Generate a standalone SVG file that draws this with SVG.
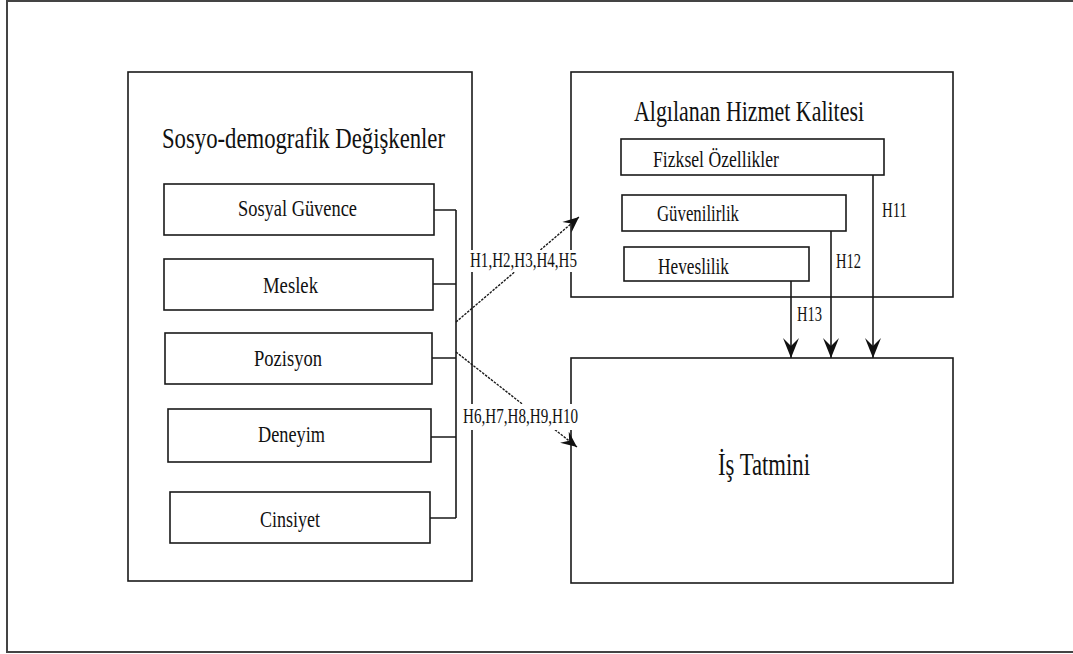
<svg xmlns="http://www.w3.org/2000/svg" width="1073" height="654" viewBox="0 0 1073 654">
<style>
.box{fill:#fff;stroke:#1a1a1a;stroke-width:1.6}
.plain{fill:none;stroke:#1a1a1a;stroke-width:1.6}
.t{font-family:"Liberation Serif","Times New Roman","DejaVu Serif",serif;fill:#111}
.dash{fill:none;stroke:#1a1a1a;stroke-width:1.4;stroke-dasharray:2.5,1.2}
.lblbg{fill:#fff;stroke:none}
</style>
<defs>
<marker id="ah" markerUnits="userSpaceOnUse" viewBox="-20 -10 21 20" refX="0" refY="0" markerWidth="21" markerHeight="20" orient="auto">
<path d="M0,0 L-20,-8 L-12,0 L-20,8 Z" fill="#111"/>
</marker>
<marker id="ahs" markerUnits="userSpaceOnUse" viewBox="-16 -8 17 16" refX="0" refY="0" markerWidth="17" markerHeight="16" orient="auto">
<path d="M0,0 L-16,-7 L-10,0 L-16,7 Z" fill="#111"/>
</marker>
</defs>
<rect x="0" y="0" width="1073" height="654" fill="#fff"/>
<path d="M1073,1 H7 V652 H1073" fill="none" stroke="#444" stroke-width="2"/>

<g id="sosyo">
<rect class="box" x="128" y="72" width="344" height="509"/>
<text class="t" x="162" y="148" font-size="30" textLength="283" lengthAdjust="spacingAndGlyphs">Sosyo-demografik Değişkenler</text>
</g>
<g id="sosyal-guvence">
<rect class="box" x="164" y="184" width="270" height="51"/>
<text class="t" x="238" y="216" font-size="24" textLength="119" lengthAdjust="spacingAndGlyphs">Sosyal Güvence</text>
</g>
<g id="meslek">
<rect class="box" x="164" y="259" width="269" height="51"/>
<text class="t" x="263" y="293" font-size="24" textLength="55" lengthAdjust="spacingAndGlyphs">Meslek</text>
</g>
<g id="pozisyon">
<rect class="box" x="165" y="333" width="267" height="51"/>
<text class="t" x="254" y="366" font-size="24" textLength="68" lengthAdjust="spacingAndGlyphs">Pozisyon</text>
</g>
<g id="deneyim">
<rect class="box" x="168" y="409" width="263" height="53"/>
<text class="t" x="258" y="442" font-size="24" textLength="67" lengthAdjust="spacingAndGlyphs">Deneyim</text>
</g>
<g id="cinsiyet">
<rect class="box" x="170" y="492" width="260" height="51"/>
<text class="t" x="260" y="527" font-size="24" textLength="60" lengthAdjust="spacingAndGlyphs">Cinsiyet</text>
</g>

<g id="hizmet-kalitesi">
<rect class="box" x="571" y="72" width="382" height="225"/>
<text class="t" x="634" y="121" font-size="29" textLength="230" lengthAdjust="spacingAndGlyphs">Algılanan Hizmet Kalitesi</text>
</g>
<g id="fiziksel">
<rect class="box" x="621" y="139" width="263" height="36"/>
<text class="t" x="653" y="167" font-size="23" textLength="126" lengthAdjust="spacingAndGlyphs">Fizksel Özellikler</text>
</g>
<g id="guvenilirlik">
<rect class="box" x="622" y="195" width="224" height="36"/>
<text class="t" x="657" y="221" font-size="23" textLength="82" lengthAdjust="spacingAndGlyphs">Güvenilirlik</text>
</g>
<g id="heveslilik">
<rect class="box" x="624" y="247" width="185" height="34"/>
<text class="t" x="658" y="274" font-size="23" textLength="71" lengthAdjust="spacingAndGlyphs">Heveslilik</text>
</g>

<g id="is-tatmini">
<rect class="box" x="571" y="358" width="382" height="225"/>
<text class="t" x="718" y="475" font-size="32" textLength="92" lengthAdjust="spacingAndGlyphs">İş Tatmini</text>
</g>

<g id="connectors">
<path class="plain" d="M434,210 H456 M433,284 H456 M432,358 H456 M431,437 H456 M430,518 H456 M456,210 V518"/>
<line class="dash" x1="456" y1="322" x2="579" y2="217" marker-end="url(#ahs)"/>
<line class="dash" x1="456" y1="352" x2="577" y2="447" marker-end="url(#ahs)"/>
<rect class="lblbg" x="468" y="250" width="111" height="22"/>
<text class="t" x="470" y="267" font-size="22" textLength="107" lengthAdjust="spacingAndGlyphs">H1,H2,H3,H4,H5</text>
<rect class="lblbg" x="461" y="404" width="120" height="26"/>
<text class="t" x="463" y="423" font-size="22" textLength="115" lengthAdjust="spacingAndGlyphs">H6,H7,H8,H9,H10</text>
<line class="plain" x1="873" y1="175" x2="873" y2="358" marker-end="url(#ah)"/>
<line class="plain" x1="831" y1="231" x2="831" y2="358" marker-end="url(#ah)"/>
<line class="plain" x1="791" y1="281" x2="791" y2="358" marker-end="url(#ah)"/>
<text class="t" x="882" y="217" font-size="21" textLength="25" lengthAdjust="spacingAndGlyphs">H11</text>
<text class="t" x="836" y="268" font-size="21" textLength="25" lengthAdjust="spacingAndGlyphs">H12</text>
<text class="t" x="797" y="321" font-size="21" textLength="25" lengthAdjust="spacingAndGlyphs">H13</text>
</g>
</svg>
